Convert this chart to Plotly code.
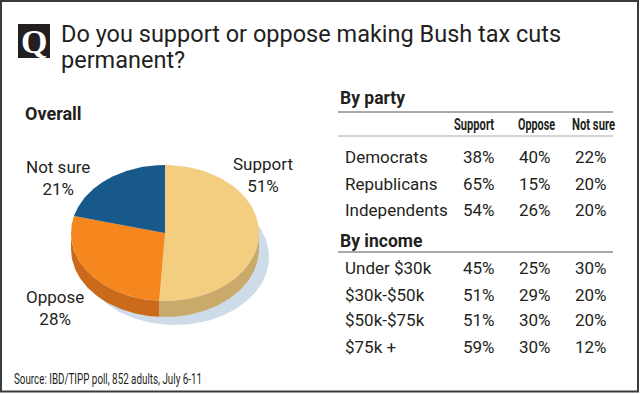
import json
import numpy as np
import plotly.graph_objects as go

# ---------------- data ----------------
title_lines = ["Do you support or oppose making Bush tax cuts", "permanent?"]
overall_labels = ["Support", "Oppose", "Not sure"]
overall_values = [51, 28, 21]
overall_colors = ["#f3cd80", "#f6871f", "#16598a"]
rim_colors = ["#c9aa6b", "#cc6a1b", "#10466e"]

table_columns = ["Support", "Oppose", "Not sure"]
party_groups = ["Democrats", "Republicans", "Independents"]
party_support = [38, 65, 54]
party_oppose = [40, 15, 26]
party_notsure = [22, 20, 20]

income_groups = ["Under $30k", "$30k-$50k", "$50k-$75k", "$75k +"]
income_support = [45, 51, 51, 59]
income_oppose = [25, 29, 30, 30]
income_notsure = [30, 20, 20, 12]

source_text = "Source: IBD/TIPP poll, 852 adults, July 6-11"

# ---------------- layout constants ----------------
W, H = 640, 394
TXT = "#231f20"
FONT = "Roboto"

cx, cy, rx, ry, depth = 165, 233, 94, 68, 16
shadow_dx, shadow_dy = 10, 24

fig = go.Figure()


def arc(f0, f1, dy=0.0, n=80):
    t = np.linspace(f0, f1, n) * 2 * np.pi
    return cx + rx * np.sin(t), cy - ry * np.cos(t) + dy


# shadow
t = np.linspace(0, 2 * np.pi, 200)
fig.add_trace(go.Scatter(x=cx + shadow_dx + rx * np.sin(t), y=cy + shadow_dy + ry * np.cos(t),
                         fill="toself", fillcolor="#cedcea", mode="lines", line=dict(width=0),
                         hoverinfo="skip", showlegend=False))

total = sum(overall_values)
fracs = np.cumsum([0] + overall_values) / total

# rims (front half only: fraction 0.25..0.75)
for i in range(len(overall_values)):
    f0, f1 = max(fracs[i], 0.25), min(fracs[i + 1], 0.75)
    if f1 <= f0:
        continue
    xt, yt = arc(f0, f1)
    xb, yb = arc(f0, f1, dy=depth)
    fig.add_trace(go.Scatter(x=np.concatenate([xt, xb[::-1], xt[:1]]),
                             y=np.concatenate([yt, yb[::-1], yt[:1]]),
                             fill="toself", fillcolor=rim_colors[i], mode="lines",
                             line=dict(width=0), hoverinfo="skip", showlegend=False))

# top wedges
for i in range(len(overall_values)):
    xa, ya = arc(fracs[i], fracs[i + 1])
    fig.add_trace(go.Scatter(x=np.concatenate([[cx], xa, [cx]]),
                             y=np.concatenate([[cy], ya, [cy]]),
                             fill="toself", fillcolor=overall_colors[i], mode="lines",
                             line=dict(width=0), name=overall_labels[i],
                             hoverinfo="name", showlegend=False))

annotations = []


def txt(x, y, text, size, color=TXT, family=FONT, xanchor="left", bold=False):
    if bold:
        text = "<b>" + text + "</b>"
    annotations.append(dict(x=x, y=y, xref="x", yref="y", text=text, showarrow=False,
                            xanchor=xanchor, yanchor="middle", align="left",
                            font=dict(size=size, color=color, family=family)))


# title + Q logo
txt(59, 34, title_lines[0], 23.5)
txt(59, 60, title_lines[1], 23.5)
txt(34, 41, "Q", 34, color="white", family="Liberation Serif", xanchor="center", bold=True)

# pie labels
label_pos = {"Support": (263, 175), "Oppose": (55, 308), "Not sure": (58, 178)}
for lab, val in zip(overall_labels, overall_values):
    x, y = label_pos[lab]
    annotations.append(dict(x=x, y=y, xref="x", yref="y", text=f"{lab}<br>{val}%",
                            showarrow=False, xanchor="center", yanchor="middle",
                            font=dict(size=17, color=TXT, family=FONT)))

txt(23, 113, "Overall", 18, bold=True)

# table
col_x = [479, 535, 591]
head_x = [452, 516, 570]
head_w = [40, 37, 43]
txt(338, 98, "By party", 17.5, bold=True)
for hx, name in zip(head_x, table_columns):
    txt(hx, 124, name, 16.5, xanchor="left", bold=True)

row_y = [157, 184, 210]
for y, g, s, o, n in zip(row_y, party_groups, party_support, party_oppose, party_notsure):
    txt(343, y, g, 17)
    for cxx, v in zip(col_x, [s, o, n]):
        txt(cxx, y, f"{v}%", 17, xanchor="center")

txt(338, 241, "By income", 17.5, bold=True)
row_y2 = [268, 295, 320, 347]
for y, g, s, o, n in zip(row_y2, income_groups, income_support, income_oppose, income_notsure):
    txt(343, y, g, 17)
    for cxx, v in zip(col_x, [s, o, n]):
        txt(cxx, y, f"{v}%", 17, xanchor="center")

txt(12, 379, source_text, 15, xanchor="left")

# condensed (narrow) text widths, applied in the page
fits = {name: w for name, w in zip(table_columns, head_w)}
fits[source_text] = 188

shapes = [
    dict(type="rect", xref="x", yref="y", x0=1, y0=1, x1=W - 2, y1=H - 2.5,
         line=dict(color="#3a3a3a", width=2), fillcolor="rgba(0,0,0,0)", layer="below"),
    dict(type="rect", xref="x", yref="y", x0=18, y0=24, x1=50, y1=58,
         line=dict(width=0), fillcolor=TXT, layer="below"),
    dict(type="line", xref="x", yref="y", x0=338, x1=613, y0=112, y1=112,
         line=dict(color="#555555", width=1)),
    dict(type="line", xref="x", yref="y", x0=338, x1=613, y0=136, y1=136,
         line=dict(color="#aaaaaa", width=1)),
    dict(type="line", xref="x", yref="y", x0=338, x1=613, y0=252, y1=252,
         line=dict(color="#555555", width=1)),
]

fig.update_layout(
    width=W, height=H, margin=dict(l=0, r=0, t=0, b=0),
    paper_bgcolor="white", plot_bgcolor="white",
    xaxis=dict(range=[0, W], visible=False, fixedrange=True),
    yaxis=dict(range=[H, 0], visible=False, fixedrange=True),
    annotations=annotations, shapes=shapes, showlegend=False,
)

post = (
    "document.body.style.margin='0';document.body.style.overflow='hidden';"
    "var fits=" + json.dumps(fits) + ";"
    "var gd=document.getElementById('{plot_id}');"
    "gd.querySelectorAll('.annotation-text').forEach(function(t){"
    "var k=t.textContent; if(fits[k]){t.setAttribute('textLength',fits[k]);"
    "t.setAttribute('lengthAdjust','spacingAndGlyphs');}});"
)

fig.write_html("out.html", config={"displayModeBar": False}, post_script=post)
